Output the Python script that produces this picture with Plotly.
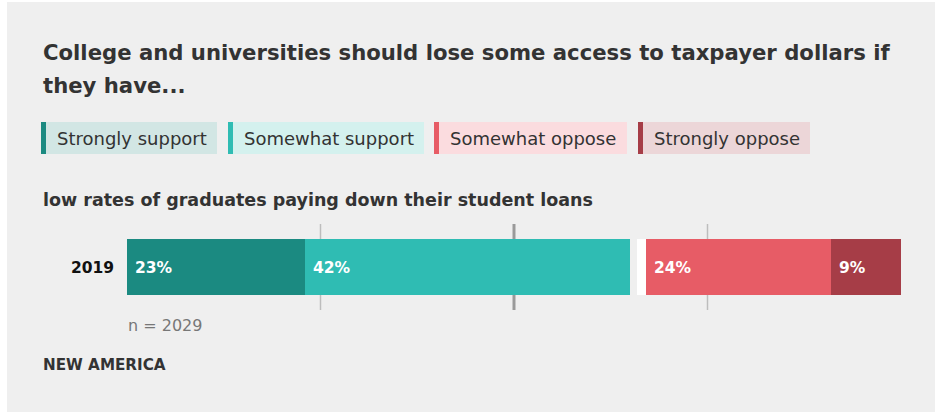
import plotly.graph_objects as go

# ---- data ----
year = "2019"
categories = ["Strongly support", "Somewhat support", "Somewhat oppose", "Strongly oppose"]
values = [23, 42, 24, 9]          # percent of respondents
no_answer = 2                     # remainder, shown as the neutral white block
sample_size = 2029
tick_positions = [25, 50, 75]

title_lines = ["College and universities should lose some access to taxpayer dollars if",
               "they have..."]
subtitle = "low rates of graduates paying down their student loans"
source = "NEW AMERICA"

# ---- styling ----
W, H = 935, 413
PL, PR, PT, PB = 127, 901, 224, 310          # plot-area pixel box
bar_colors = ["#1b8a81", "#2fbcb3", "#e75c66", "#a63d47"]
legend_fills = ["#d2e6e4", "#d4f1ee", "#fbdcdf", "#ecd6d8"]
legend_boxes = [(41, 217), (228, 424), (434, 627), (638, 810)]
FONT = "DejaVu Sans"
DARK = "#333333"
neutral_gap = 0.9                              # breathing room before the neutral block


def px(xp):
    return (xp - PL) / (PR - PL)


def py(yp):
    return (PB - yp) / (PB - PT)


bar_width = 56 / (PB - PT)

fig = go.Figure()

# support side grows from 0, oppose side is anchored to 100
bases = [0, values[0], 100 - values[2] - values[3], 100 - values[3]]
support_total = values[0] + values[1]

for cat, val, base, col in zip(categories, values, bases, bar_colors):
    fig.add_trace(go.Bar(
        y=[year], x=[val], base=[base], orientation="h", name=cat,
        marker=dict(color=col, line=dict(width=0)),
        width=bar_width, showlegend=False, hoverinfo="skip",
    ))

# neutral block between the two sides
fig.add_trace(go.Bar(
    y=[year], x=[no_answer - neutral_gap], base=[support_total + neutral_gap],
    orientation="h", marker=dict(color="#ffffff", line=dict(width=0)),
    width=bar_width, showlegend=False, hoverinfo="skip",
))

shapes = []
# card background
shapes.append(dict(type="rect", xref="paper", yref="paper", layer="below",
                   x0=px(7), x1=px(W + 5), y0=py(2), y1=py(412),
                   fillcolor="#efefef", line=dict(width=0)))
# reference lines behind the bar
for t in tick_positions:
    mid = t == 50
    shapes.append(dict(type="line", xref="x", yref="paper", layer="below",
                       x0=t, x1=t, y0=0, y1=1,
                       line=dict(color="#9a9a9a" if mid else "#bdbdbd",
                                 width=3 if mid else 1.5)))
# legend chips
for (x0, x1), fill, col in zip(legend_boxes, legend_fills, bar_colors):
    shapes.append(dict(type="rect", xref="paper", yref="paper",
                       x0=px(x0), x1=px(x1), y0=py(154), y1=py(122),
                       fillcolor=fill, line=dict(width=0)))
    shapes.append(dict(type="rect", xref="paper", yref="paper",
                       x0=px(x0), x1=px(x0 + 5), y0=py(154), y1=py(122),
                       fillcolor=col, line=dict(width=0)))

ann = []


def text(xp, yp, s, size, color=DARK, bold=False, anchor="left"):
    ann.append(dict(xref="paper", yref="paper", x=px(xp), y=py(yp), text=s,
                    showarrow=False, xanchor=anchor, yanchor="middle",
                    font=dict(family=FONT, size=size, color=color,
                              weight=700 if bold else 400)))


text(41, 52, title_lines[0], 21.2, bold=True)
text(41, 86, title_lines[1], 21.2, bold=True)
for (x0, _), cat in zip(legend_boxes, categories):
    text(x0 + 14, 138, cat, 18)
text(41, 200, subtitle, 17.5, bold=True)
text(116, 268, year, 15.5, color="#111111", bold=True, anchor="right")
text(126, 325, f"n = {sample_size}", 16, color="#777777")
text(41, 365, source, 15.2, bold=True)

# value labels at the start of each segment
for val, base in zip(values, bases):
    ann.append(dict(xref="x", yref="paper", x=base, y=0.5, text=f"{val}%",
                    showarrow=False, xanchor="left", yanchor="middle", xshift=6,
                    yshift=-1,
                    font=dict(family=FONT, size=15.5, color="#ffffff", weight=700)))

fig.update_layout(
    width=W, height=H, autosize=False,
    margin=dict(l=PL, r=W - PR, t=PT, b=H - PB, pad=0),
    paper_bgcolor="#ffffff", plot_bgcolor="rgba(0,0,0,0)",
    barmode="overlay", bargap=0,
    xaxis=dict(range=[0, 100], showgrid=False, zeroline=False,
               showticklabels=False, showline=False, fixedrange=True),
    yaxis=dict(type="category", range=[-0.5, 0.5], showgrid=False, zeroline=False,
               showticklabels=False, showline=False, fixedrange=True),
    shapes=shapes, annotations=ann, showlegend=False,
)

fig.write_html("out.html", config={"displayModeBar": False})
